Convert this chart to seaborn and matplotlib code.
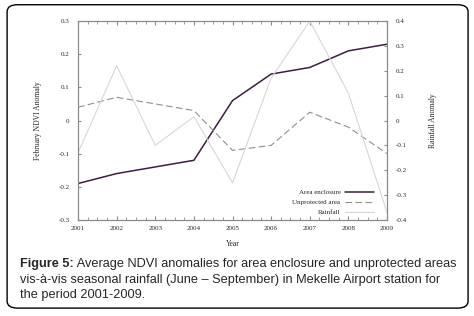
import matplotlib
matplotlib.use("Agg")
import matplotlib.pyplot as plt
import seaborn as sns
import pandas as pd
from matplotlib.patches import FancyBboxPatch
from matplotlib.ticker import MultipleLocator

years = [2001, 2002, 2003, 2004, 2005, 2006, 2007, 2008, 2009]
area_enclosure = [-0.19, -0.16, -0.14, -0.12, 0.06, 0.14, 0.16, 0.21, 0.23]
unprotected = [0.04, 0.07, 0.05, 0.03, -0.09, -0.075, 0.025, -0.02, -0.10]
rainfall = [-0.13, 0.22, -0.10, 0.015, -0.25, 0.17, 0.40, 0.11, -0.37]

sns.set_style("white")
plt.rcParams['font.family'] = ['Liberation Serif', 'DejaVu Serif']

df = pd.DataFrame({"Year": years, "Area enclosure": area_enclosure,
                   "Unprotected area": unprotected, "Rainfall": rainfall})

fig = plt.figure(figsize=(4.74, 3.16), dpi=100)
ax = fig.add_axes([0.1646, 0.3038, 0.6519, 0.6297])
ax2 = ax.twinx()

spine_c = "#8a8a8a"
sns.lineplot(data=df, x="Year", y="Area enclosure", ax=ax, color="#3b1f3d", lw=1.1, label="Area enclosure", legend=False)
sns.lineplot(data=df, x="Year", y="Unprotected area", ax=ax, color="#8f8f8f", lw=0.8, label="Unprotected area", legend=False)
ax.lines[-1].set_dashes([6, 3])
sns.lineplot(data=df, x="Year", y="Rainfall", ax=ax2, color="#d6d6d6", lw=0.8, label="Rainfall", legend=False)

ax.set_xlim(2001, 2009)
ax.set_ylim(-0.3, 0.3)
ax2.set_ylim(-0.4, 0.4)
ax.set_xticks(years)
ax.set_xticklabels([str(y) for y in years])
ax.xaxis.set_minor_locator(MultipleLocator(0.25))
ax.set_yticks([-0.3, -0.2, -0.1, 0, 0.1, 0.2, 0.3])
ax.set_yticklabels(["-0.3", "-0.2", "-0.1", "0", "0.1", "0.2", "0.3"])
ax2.set_yticks([-0.4, -0.3, -0.2, -0.1, 0, 0.1, 0.2, 0.3, 0.4])
ax2.set_yticklabels(["-0.4", "-0.3", "-0.2", "-0.1", "0", "0.1", "0.2", "0.3", "0.4"])

for a in (ax, ax2):
    for s in a.spines.values():
        s.set_color(spine_c)
        s.set_linewidth(0.8)
        s.set_visible(True)
ax.tick_params(axis="x", which="both", direction="in", top=True, bottom=True, color=spine_c, labelsize=5, pad=4)
ax.tick_params(axis="x", which="major", length=3)
ax.tick_params(axis="x", which="minor", length=2)
ax.tick_params(axis="y", direction="in", left=True, length=2.5, color=spine_c, labelsize=5, pad=6)
ax2.tick_params(axis="y", direction="in", right=True, length=2.5, color=spine_c, labelsize=5, pad=6)

ax.set_xlabel("Year", fontsize=5.5, labelpad=7)
ax.set_ylabel("February NDVI Anomaly", fontsize=5.5, labelpad=12)
ax2.set_ylabel("Rainfall Anomaly", fontsize=5.5, labelpad=16)

h1, l1 = ax.get_legend_handles_labels()
h2, l2 = ax2.get_legend_handles_labels()
leg = ax2.legend(h1 + h2, l1 + l2, loc="lower right", bbox_to_anchor=(0.975, 0.0), frameon=False, fontsize=5,
                 markerfirst=False, handlelength=4.3, handletextpad=0.6, borderaxespad=0.3, labelspacing=0.6)

fig.patches.append(FancyBboxPatch((0.015, 0.025), 0.9725, 0.96, boxstyle="round,pad=0,rounding_size=0.022",
                                  transform=fig.transFigure, fill=False, ec="black", lw=1.0))

cap_fs = 9.2
x0 = 20 / 474
y1 = 1 - 267 / 316
dy = 15.5 / 316
t_bold = fig.text(x0, y1, "Figure 5:", fontsize=cap_fs, family="Liberation Sans", weight="bold", va="baseline")
fig.canvas.draw()
bb = t_bold.get_window_extent(renderer=fig.canvas.get_renderer())
xr = bb.x1 / fig.bbox.width
fig.text(xr, y1, " Average NDVI anomalies for area enclosure and unprotected areas",
         fontsize=cap_fs, family="Liberation Sans", va="baseline")
fig.text(x0, y1 - dy, "vis-à-vis seasonal rainfall (June – September) in Mekelle Airport station for",
         fontsize=cap_fs, family="Liberation Sans", va="baseline")
fig.text(x0, y1 - 2 * dy, "the period 2001-2009.",
         fontsize=cap_fs, family="Liberation Sans", va="baseline")
fig.savefig("out.png", dpi=100)
